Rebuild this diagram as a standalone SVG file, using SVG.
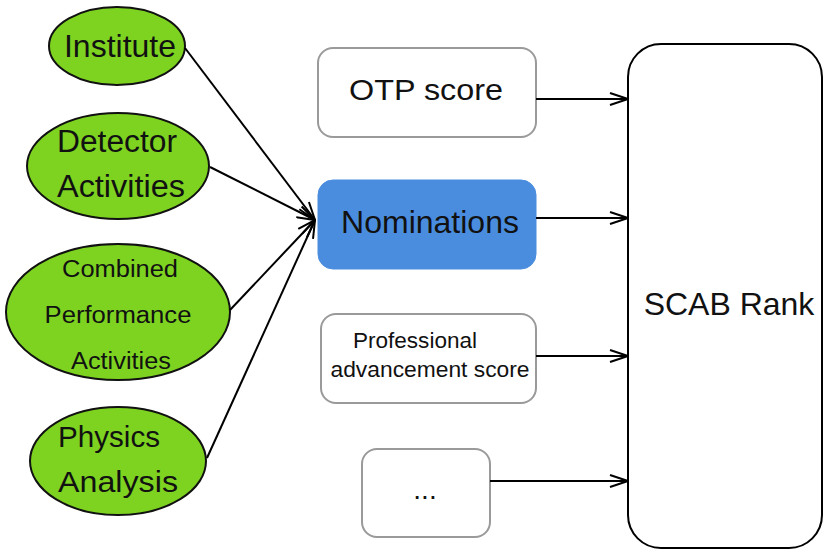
<svg xmlns="http://www.w3.org/2000/svg" width="823" height="551" viewBox="0 0 823 551">
  <defs>
    <marker id="open-arrow" viewBox="0 0 20 14" refX="19" refY="7" markerWidth="20" markerHeight="14" markerUnits="userSpaceOnUse" orient="auto">
      <path d="M1,1 L19,7 L1,13" fill="none" stroke="#000" stroke-width="2"/>
    </marker>
    <style>
      text { font-family: "Liberation Sans", Arial, sans-serif; fill: #111; text-anchor: middle; }
      .source { fill: #7ed321; stroke: #111; stroke-width: 2; }
      .score { fill: #fff; stroke: #9a9a9a; stroke-width: 2; }
      .nom { fill: #4a8ddf; stroke: #4a8ddf; stroke-width: 1; }
      .rank { fill: #fff; stroke: #000; stroke-width: 2; }
      .edge { fill: none; stroke: #000; stroke-width: 2; marker-end: url(#open-arrow); }
    </style>
  </defs>
  <rect width="823" height="551" fill="#fff"/>

  <!-- inputs feeding the nominations -->
  <g id="institute">
    <ellipse class="source" cx="117" cy="46" rx="68" ry="39"/>
    <text x="120" y="57" font-size="32">Institute</text>
  </g>
  <g id="detector-activities">
    <ellipse class="source" cx="118" cy="166" rx="91" ry="53"/>
    <text x="117" y="152" font-size="31" textLength="120" lengthAdjust="spacingAndGlyphs">Detector</text>
    <text x="121" y="197" font-size="31" textLength="128" lengthAdjust="spacingAndGlyphs">Activities</text>
  </g>
  <g id="combined-performance">
    <ellipse class="source" cx="118" cy="312" rx="112" ry="68"/>
    <text x="120" y="277" font-size="23" textLength="116" lengthAdjust="spacingAndGlyphs">Combined</text>
    <text x="118" y="323" font-size="23" textLength="147" lengthAdjust="spacingAndGlyphs">Performance</text>
    <text x="121" y="369" font-size="23" textLength="100" lengthAdjust="spacingAndGlyphs">Activities</text>
  </g>
  <g id="physics-analysis">
    <ellipse class="source" cx="118" cy="461" rx="88" ry="54"/>
    <text x="109" y="447" font-size="30" textLength="102" lengthAdjust="spacingAndGlyphs">Physics</text>
    <text x="118" y="492" font-size="30" textLength="120" lengthAdjust="spacingAndGlyphs">Analysis</text>
  </g>

  <!-- scores -->
  <g id="otp-score">
    <rect class="score" x="318" y="48" width="218" height="89" rx="15"/>
    <text x="426" y="100" font-size="30" textLength="154" lengthAdjust="spacingAndGlyphs">OTP score</text>
  </g>
  <g id="nominations">
    <rect class="nom" x="318" y="180" width="218" height="89" rx="15"/>
    <text x="430" y="233" font-size="32">Nominations</text>
  </g>
  <g id="professional-advancement">
    <rect class="score" x="321" y="314" width="215" height="89" rx="15"/>
    <text x="415" y="348" font-size="22" textLength="124" lengthAdjust="spacingAndGlyphs">Professional</text>
    <text x="430" y="377" font-size="22" textLength="199" lengthAdjust="spacingAndGlyphs">advancement score</text>
  </g>
  <g id="more">
    <rect class="score" x="362" y="449" width="128" height="88" rx="15"/>
    <text x="425" y="499" font-size="28">...</text>
  </g>

  <!-- result -->
  <g id="scab-rank">
    <rect class="rank" x="628" y="44" width="194" height="504" rx="33"/>
    <text x="729" y="315" font-size="32">SCAB Rank</text>
  </g>

  <g id="connectors">
    <line class="edge" x1="185" y1="48" x2="315" y2="220"/>
    <line class="edge" x1="210" y1="167" x2="315" y2="220"/>
    <line class="edge" x1="230" y1="310" x2="315" y2="220"/>
    <line class="edge" x1="207" y1="458" x2="315" y2="220"/>
    <line class="edge" x1="536" y1="99" x2="628" y2="99"/>
    <line class="edge" x1="536" y1="218" x2="628" y2="218"/>
    <line class="edge" x1="536" y1="356" x2="628" y2="356"/>
    <line class="edge" x1="490" y1="481" x2="628" y2="481"/>
  </g>
</svg>
